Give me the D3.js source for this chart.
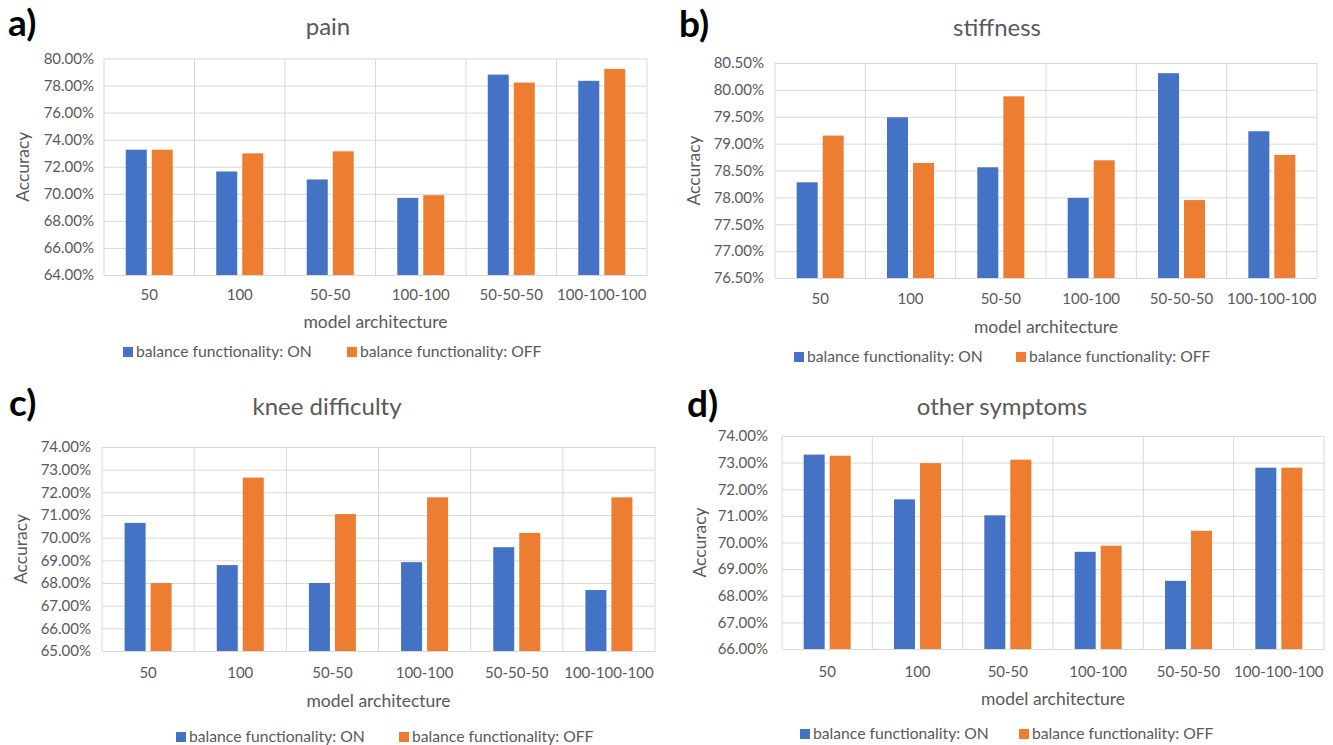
<!DOCTYPE html>
<html>
<head>
<meta charset="utf-8">
<script src="https://cdn.jsdelivr.net/npm/d3@7"></script>
<style>
  body { margin: 0; background: #fff; }
  svg text { font-family: Lato, "Open Sans", sans-serif; }
</style>
</head>
<body>
<svg id="fig" width="1333" height="745"></svg>
<script>
// ---- data -------------------------------------------------------------
const categories = ["50", "100", "50-50", "100-100", "50-50-50", "100-100-100"];
const seriesNames = ["balance functionality: ON", "balance functionality: OFF"];

const painOn  = [73.26, 71.65, 71.06, 69.70, 78.81, 78.35];
const painOff = [73.26, 72.99, 73.14, 69.90, 78.22, 79.23];
const painTicks = [64, 66, 68, 70, 72, 74, 76, 78, 80];

const stiffnessOn  = [78.28, 79.49, 78.56, 77.99, 80.31, 79.23];
const stiffnessOff = [79.15, 78.64, 79.88, 78.69, 77.95, 78.79];
const stiffnessTicks = [76.5, 77, 77.5, 78, 78.5, 79, 79.5, 80, 80.5];

const kneeOn  = [70.65, 68.79, 68.00, 68.92, 69.58, 67.69];
const kneeOff = [68.00, 72.65, 71.04, 71.78, 70.21, 71.78];
const kneeTicks = [65, 66, 67, 68, 69, 70, 71, 72, 73, 74];

const otherOn  = [73.30, 71.62, 71.02, 69.65, 68.56, 72.81];
const otherOff = [73.26, 72.98, 73.11, 69.88, 70.44, 72.81];
const otherTicks = [66, 67, 68, 69, 70, 71, 72, 73, 74];

// ---- styling & layout ---------------------------------------------------
const colors = ["#4472C4", "#ED7D31"];
const textColor = "#595959";
const gridColor = "#D9D9D9";

const panels = [
  { tag: "a)", title: "pain", on: painOn, off: painOff, ticks: painTicks,
    plot: { left: 104, right: 647, top: 58.5, bottom: 275 },
    tagPos: [8, 36], titlePos: [328, 35], tickGap: 10, xLabelOff: 25,
    xTitleY: 328, yTitleX: 23, legend: { y: 357, items: [123, 347] } },
  { tag: "b)", title: "stiffness", on: stiffnessOn, off: stiffnessOff, ticks: stiffnessTicks,
    plot: { left: 775, right: 1317, top: 63, bottom: 278 },
    tagPos: [679, 37], titlePos: [997, 36], tickGap: 11, xLabelOff: 26,
    xTitleY: 333, yTitleX: 694, legend: { y: 362, items: [794, 1016] } },
  { tag: "c)", title: "knee difficulty", on: kneeOn, off: kneeOff, ticks: kneeTicks,
    plot: { left: 102, right: 655, top: 447, bottom: 651 },
    tagPos: [9, 416], titlePos: [327, 415], tickGap: 11, xLabelOff: 27,
    xTitleY: 707, yTitleX: 21, legend: { y: 742, items: [176, 399] } },
  { tag: "d)", title: "other symptoms", on: otherOn, off: otherOff, ticks: otherTicks,
    plot: { left: 782, right: 1324, top: 436, bottom: 649 },
    tagPos: [687, 417], titlePos: [1002, 415], tickGap: 14, xLabelOff: 28,
    xTitleY: 705, yTitleX: 700, legend: { y: 739, items: [800, 1019] } }
];

const svg = d3.select("#fig");
const pct = v => d3.format(".2f")(v) + "%";

panels.forEach(p => {
  const g = svg.append("g");
  const { left, right, top, bottom } = p.plot;

  const x = d3.scaleBand().domain(categories).range([left, right]).padding(0);
  const pairWidth = 47;
  const xInner = d3.scaleBand().domain([0, 1]).range([0, pairWidth])
    .paddingInner(5 / 26).paddingOuter(0);
  const y = d3.scaleLinear()
    .domain([p.ticks[0], p.ticks[p.ticks.length - 1]])
    .range([bottom, top]);

  // horizontal gridlines + tick labels
  const yAxis = g.append("g")
    .attr("transform", `translate(${left},0)`)
    .call(d3.axisLeft(y).tickValues(p.ticks).tickFormat(pct)
      .tickSize(-(right - left)).tickPadding(p.tickGap));
  yAxis.select(".domain").remove();
  yAxis.selectAll(".tick line").attr("stroke", gridColor).attr("stroke-width", 1);
  yAxis.selectAll(".tick text")
    .attr("fill", textColor).style("font-size", "15px");

  // vertical category dividers (including both plot edges)
  const edges = categories.map(c => x(c)).concat([right]);
  g.append("g").selectAll("line").data(edges).join("line")
    .attr("x1", d => d).attr("x2", d => d)
    .attr("y1", top).attr("y2", bottom)
    .attr("stroke", gridColor).attr("stroke-width", 1);

  // bars
  const rows = categories.map((c, i) => ({ c, vals: [p.on[i], p.off[i]] }));
  const groups = g.append("g").selectAll("g").data(rows).join("g")
    .attr("transform", d => `translate(${x(d.c) + (x.bandwidth() - pairWidth) / 2},0)`);
  groups.selectAll("rect").data(d => d.vals.map((v, k) => ({ v, k }))).join("rect")
    .attr("x", d => xInner(d.k))
    .attr("width", xInner.bandwidth())
    .attr("y", d => y(d.v))
    .attr("height", d => bottom - y(d.v))
    .attr("fill", d => colors[d.k]);

  // category axis
  const xAxis = g.append("g")
    .attr("transform", `translate(0,${bottom})`)
    .call(d3.axisBottom(x).tickSize(0));
  xAxis.select(".domain").attr("stroke", gridColor);
  xAxis.selectAll(".tick text")
    .attr("y", p.xLabelOff).attr("dy", null)
    .attr("fill", textColor).style("font-size", "15px");

  // axis titles
  g.append("text")
    .attr("x", (left + right) / 2).attr("y", p.xTitleY)
    .attr("text-anchor", "middle").attr("fill", textColor)
    .style("font-size", "17.5px").text("model architecture");
  g.append("text")
    .attr("transform", `translate(${p.yTitleX},${(top + bottom) / 2}) rotate(-90)`)
    .attr("text-anchor", "middle").attr("dy", "0.35em").attr("fill", textColor)
    .style("font-size", "17.5px").text("Accuracy");

  // chart title and panel tag
  g.append("text")
    .attr("x", p.titlePos[0]).attr("y", p.titlePos[1])
    .attr("text-anchor", "middle").attr("fill", textColor)
    .style("font-size", "24px").text(p.title);
  g.append("text")
    .attr("x", p.tagPos[0]).attr("y", p.tagPos[1])
    .attr("fill", "#000").style("font-size", "37px").style("font-weight", "bold")
    .text(p.tag);

  // legend
  const leg = g.append("g").selectAll("g").data(seriesNames).join("g")
    .attr("transform", (d, i) => `translate(${p.legend.items[i]},${p.legend.y})`);
  leg.append("rect").attr("x", 0).attr("y", -10).attr("width", 10).attr("height", 10)
    .attr("fill", (d, i) => colors[i]);
  leg.append("text").attr("x", 13).attr("y", 0)
    .attr("fill", textColor).style("font-size", "15.7px").text(d => d);
});
</script>
</body>
</html>
